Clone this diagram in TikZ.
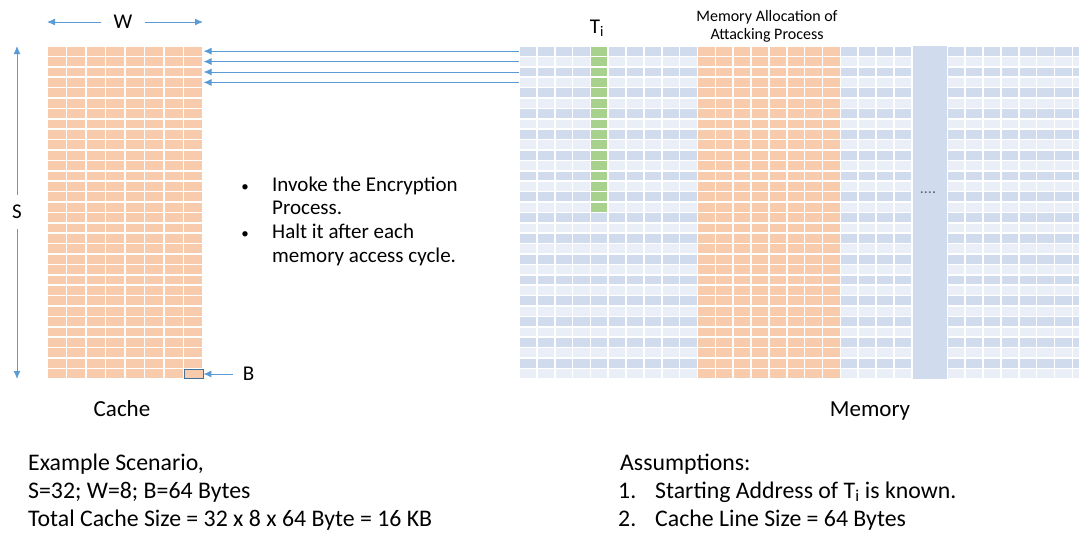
\documentclass[tikz,border=0pt]{standalone}
\usepackage{fontspec}
\setmainfont{Carlito}
\usetikzlibrary{arrows.meta}
\definecolor{cachefill}{HTML}{F8CBAD}
\definecolor{memdark}{HTML}{D0DCEE}
\definecolor{memlight}{HTML}{E9EEF7}
\definecolor{tgreen}{HTML}{A9D18E}
\definecolor{arrowblue}{HTML}{5B9BD5}
\definecolor{boxblue}{HTML}{41719C}

\begin{document}
\begin{tikzpicture}[x=1pt, y=-1pt, >={Latex[length=8pt,width=7pt]},
  lbl/.style={font=\fontsize{21}{25}\selectfont, inner sep=0pt},
  note/.style={font=\fontsize{23.8}{28}\selectfont, inner sep=0pt, anchor=base west},
  ptr/.style={->, arrowblue, line width=1pt}]
  \useasboundingbox (0,0) rectangle (1079,533);

  % cache, 8 ways by 32 sets
  \foreach \i in {0,...,7}
    \foreach \j in {0,...,31}
      \fill[cachefill] (47.8+\i*19.5, 46.8+\j*10.4) rectangle ++(17.9,8.8);
  \coordinate (cnw) at (47,46);
  \coordinate (cse) at (203,379);

  % memory
  \begin{scope}
    \clip (519,40) rectangle (1079,385);
    \foreach \c in {0,...,31}
      \foreach \r in {0,...,31} {
        \ifodd\r \def\cc{memlight}\else \def\cc{memdark}\fi
        \ifnum\c>9 \ifnum\c<18 \def\cc{cachefill}\fi\fi
        \ifnum\c=4 \ifnum\r<16 \def\cc{tgreen}\fi\fi
        \fill[\cc] (519.8+\c*17.85, 46.8+\r*10.4) rectangle ++(16.25,8.8);
      }
    \fill[memdark] (912.5,46) rectangle (946.6,379);
  \end{scope}
  \node[font=\fontsize{16}{16}\selectfont, text=black!60] (dots) at (928,193) {....};

  % arrows
  \node[lbl, inner xsep=12pt] (W) at (123,22) {W};
  \draw[ptr] (W) -- (W -| cnw);
  \draw[ptr] (W) -- (W -| cse);
  \node[lbl, inner ysep=10pt] (S) at (17,212) {S};
  \draw[ptr] (S) -- (S |- cnw);
  \draw[ptr] (S) -- (S |- cse);
  \foreach \r in {0,...,3} {
    \coordinate (m\r) at (519, 51.2+\r*10.4);
    \coordinate (c\r) at (203.5, 51.2+\r*10.4);
    \draw[ptr] (m\r) -- (c\r);
  }
  \node[draw=boxblue, fill=cachefill, line width=0.8pt, inner sep=0pt,
    minimum width=19pt, minimum height=9.4pt] (blk) at (193.5,374) {};
  \node[lbl, inner xsep=10pt] (B) at (248.5,374) {B};
  \draw[ptr] (B) -- (blk);

  % labels
  \node[lbl, anchor=base] (Ti) at (597,33.3) {T\textsubscript{i}};
  \node[font=\fontsize{16}{18}\selectfont, align=center, inner sep=0pt]
    (alloc) at (767,26) {Memory Allocation of\\Attacking Process};
  \node[lbl, font=\fontsize{23}{25}\selectfont, anchor=base] (cachelbl) at (122,416) {Cache};
  \node[lbl, font=\fontsize{23}{25}\selectfont, anchor=base] (memlbl) at (870,416) {Memory};

  \node[lbl, font=\fontsize{15}{15}\selectfont, anchor=base] (bul1) at (245,191) {\textbullet};
  \node[lbl, anchor=base west] (inv1) at (272,191) {Invoke the Encryption};
  \node[lbl, anchor=base west] (inv2) at (272,214.5) {Process.};
  \node[lbl, font=\fontsize{15}{15}\selectfont, anchor=base] (bul2) at (245,238.3) {\textbullet};
  \node[lbl, anchor=base west] (halt1) at (272,238.3) {Halt it after each};
  \node[lbl, anchor=base west] (halt2) at (272,262) {memory access cycle.};

  \node[note] (ex1) at (28,470) {Example Scenario,};
  \node[note] (ex2) at (28,498) {S=32; W=8; B=64 Bytes};
  \node[note] (ex3) at (28,526) {Total Cache Size = 32 x 8 x 64 Byte = 16 KB};

  \node[note] (as0) at (620,470) {Assumptions:};
  \node[note] (n1) at (618,498) {1.};
  \node[note] (as1) at (655,498) {Starting Address of T\textsubscript{i} is known.};
  \node[note] (n2) at (618,526) {2.};
  \node[note] (as2) at (655,526) {Cache Line Size = 64 Bytes};
\end{tikzpicture}
\end{document}
